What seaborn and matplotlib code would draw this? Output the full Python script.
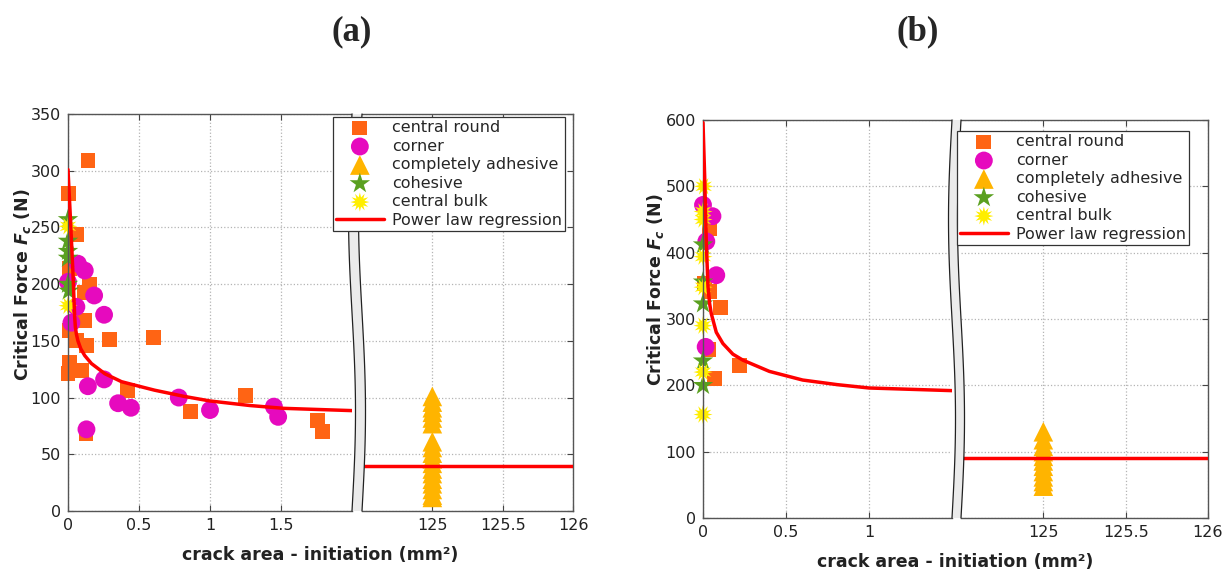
import numpy as np
import pandas as pd
import matplotlib
matplotlib.use('Agg')
import matplotlib.pyplot as plt
import seaborn as sns
from matplotlib.patches import Polygon
from matplotlib.lines import Line2D
from matplotlib.ticker import FormatStrFormatter

sns.set_theme(style='white')
plt.rcParams['font.family'] = ['DejaVu Sans']
plt.rcParams['mathtext.fontset'] = 'custom'
plt.rcParams['mathtext.it'] = 'DejaVu Sans:italic:bold'
plt.rcParams['mathtext.rm'] = 'DejaVu Sans:bold'

# ---------------- data (a) ----------------
A_ROUND_X = [0.141, 0.005, 0.059, 0.012, 0.153, 0.113, 0.118, 0.012, 0.059, 0.13, 0.295, 0.605,
             0.012, 0.094, 0.0, 0.012, 0.42, 1.25, 0.86, 1.76, 1.79, 0.127]
A_ROUND_Y = [309, 280, 244, 214, 200, 193, 168, 159, 150, 146, 151, 153,
             124, 124, 121, 131, 106, 102, 88, 80, 70, 68]
A_CORNER_X = [0.07, 0.118, 0.184, 0.059, 0.254, 0.024, 0.0, 0.254, 0.14, 0.353, 0.443,
              0.78, 1.0, 1.45, 1.48, 0.13]
A_CORNER_Y = [218, 212, 190, 180, 173, 166, 202, 116, 110, 95, 91,
              100, 89, 92, 83, 72]
A_ADH_X = [125] * 18
A_ADH_Y = [101, 96, 91, 87, 82, 77, 61, 56, 51, 46, 42, 37, 33, 28, 24, 19, 14, 12]
A_COH_X = [0.0, 0.0, 0.0, 0.0, 0.0, 0.005]
A_COH_Y = [257, 238, 229, 223, 200, 194]
A_BULK_X = [0.0, 0.0]
A_BULK_Y = [181, 251]
A_FIT_X = [0.0, 0.019, 0.035, 0.047, 0.052, 0.059, 0.07, 0.09, 0.118, 0.165, 0.26, 0.377,
           0.5, 0.61, 0.82, 1.0, 1.28, 1.52, 2.0]
A_FIT_Y = [301, 253, 209, 171, 162, 156, 150, 143, 137, 130, 121, 114,
           110, 106.5, 101, 97, 93, 90.5, 88.5]
A_FIT_RIGHT = 40

# ---------------- data (b) ----------------
B_ROUND_X = [0.04, 0.01, 0.04, 0.107, 0.036, 0.218, 0.07]
B_ROUND_Y = [437, 354, 341, 318, 254, 230, 210]
B_CORNER_X = [0.0, 0.057, 0.02, 0.08, 0.016]
B_CORNER_Y = [472, 455, 417, 366, 258]
B_ADH_X = [125] * 11
B_ADH_Y = [130, 118, 108, 100, 93, 86, 78, 70, 62, 55, 48]
B_COH_X = [0.0, 0.0, 0.0, 0.0, 0.0]
B_COH_Y = [412, 356, 323, 237, 200]
B_BULK_X = [0.004, 0.0, 0.0, 0.0, 0.0, 0.0, 0.0, 0.0]
B_BULK_Y = [500, 462, 450, 394, 348, 290, 220, 156]
B_FIT_X = [0.0, 0.01, 0.02, 0.03, 0.04, 0.05, 0.08, 0.12, 0.18, 0.24, 0.40, 0.60, 0.81, 1.0, 1.5]
B_FIT_Y = [596, 515, 414, 349, 323, 308, 280, 263, 247, 238, 221, 208, 201, 196, 192]
B_FIT_RIGHT = 90

C_ROUND = '#FF6414'
C_CORNER = '#E60ABE'
C_ADH = '#FFB400'
C_COH = '#5AA020'
C_BULK = '#FFEE00'
C_FIT = '#FF0000'

MK = {
    'central round': ('s', C_ROUND, 115),
    'corner': ('o', C_CORNER, 165),
    'completely adhesive': ('^', C_ADH, 200),
    'cohesive': ('*', C_COH, 240),
    'central bulk': ((12, 1, 0), C_BULK, 190),
}
ORDER = ['central round', 'corner', 'completely adhesive', 'cohesive', 'central bulk',
         'Power law regression']

W, H = 1224, 572
fig = plt.figure(figsize=(W / 100, H / 100), dpi=100)


def fx(px):
    return px / W


def fy(py):
    return 1 - py / H


def scatter(ax, xs, ys, name):
    m, c, s = MK[name]
    sns.scatterplot(x=xs, y=ys, ax=ax, marker=m, color=c, s=s, edgecolor='none',
                    linewidth=0, label=name, legend=False, clip_on=False, zorder=2)


def draw_break(ax_l, ax_r):
    bl = ax_l.get_position()
    br = ax_r.get_position()
    t = np.linspace(0, 1, 80)
    wave = (3.5 / W) * np.sin(2 * np.pi * t)
    y = bl.y0 + t * bl.height
    xl = bl.x1 + wave
    xr = br.x0 + wave
    verts = np.column_stack([np.r_[xl, xr[::-1]], np.r_[y, y[::-1]]])
    band = Polygon(verts, closed=True, transform=fig.transFigure, facecolor='#ebebeb',
                   edgecolor='none', zorder=3.5, clip_on=False)
    ax_r.add_artist(band)
    for xx in (xl, xr):
        ln = Line2D(xx, y, transform=fig.transFigure, color='#222222', lw=0.9,
                    zorder=3.6, clip_on=False)
        ax_r.add_artist(ln)


def style_axes(ax_l, ax_r, ymax, ystep, xmax):
    for ax in (ax_l, ax_r):
        ax.set_ylim(0, ymax)
        ax.set_yticks(np.arange(0, ymax + 1, ystep))
        ax.grid(True, ls=':', color='#b4b4b4', lw=0.9)
        ax.tick_params(direction='in', length=4, width=0.8, color='#444444',
                       labelcolor='#222222', labelsize=11.5, top=True, bottom=True, pad=5)
        for sp in ax.spines.values():
            sp.set_color('#555555')
            sp.set_linewidth(1.0)
        ax.set_xlabel('')
        ax.set_ylabel('')
        ax.set_facecolor('white')
        ax.xaxis.set_major_formatter(FormatStrFormatter('%g'))
    ax_l.set_xlim(0, xmax)
    ax_l.set_xticks(np.arange(0, xmax, 0.5))
    ax_r.set_xlim(124.5, 126)
    ax_r.set_xticks([125, 125.5, 126])
    ax_l.spines['right'].set_visible(False)
    ax_r.spines['left'].set_visible(False)
    ax_l.tick_params(left=True, right=False)
    ax_r.tick_params(left=False, right=True, labelleft=False)


def panel(boxes, data, ymax, ystep, xmax, right_level, legend_anchor, title, title_x,
          ylab_xy, xlab_xy):
    ax_l = fig.add_axes(boxes[0])
    ax_r = fig.add_axes(boxes[1])
    (rx, ry), (cx, cy), (ax_, ay), (hx, hy), (bx, by), (fitx, fity) = data
    scatter(ax_l, rx, ry, 'central round')
    scatter(ax_l, cx, cy, 'corner')
    scatter(ax_r, ax_, ay, 'completely adhesive')
    scatter(ax_l, hx, hy, 'cohesive')
    scatter(ax_l, bx, by, 'central bulk')
    sns.lineplot(x=fitx, y=fity, ax=ax_l, color=C_FIT, lw=2.5, label='Power law regression',
                 legend=False, zorder=3, sort=False, estimator=None)
    ax_r.axhline(right_level, color=C_FIT, lw=2.5, zorder=3)
    style_axes(ax_l, ax_r, ymax, ystep, xmax)
    draw_break(ax_l, ax_r)

    hl, ll = ax_l.get_legend_handles_labels()
    hr, lr = ax_r.get_legend_handles_labels()
    lookup = dict(zip(ll + lr, hl + hr))
    leg = ax_r.legend([lookup[k] for k in ORDER], ORDER, loc='upper right',
                      bbox_to_anchor=legend_anchor, bbox_transform=fig.transFigure,
                      fontsize=11.5, frameon=True, fancybox=False, framealpha=1,
                      edgecolor='#333333', borderpad=0.2, labelspacing=0.22,
                      handlelength=3.0, handletextpad=0.5, borderaxespad=0)
    leg.get_frame().set_linewidth(0.9)
    leg.set_zorder(6)

    fig.text(title_x, fy(32), title, ha='center', va='center', fontsize=25,
             fontweight='bold', family='Liberation Serif')
    fig.text(ylab_xy[0], ylab_xy[1], r'Critical Force $F_c$ (N)', rotation=90,
             ha='center', va='center', fontsize=12.5, fontweight='bold', color='#222222')
    fig.text(xlab_xy[0], xlab_xy[1], 'crack area - initiation (mm²)', ha='center',
             va='center', fontsize=12.5, fontweight='bold', color='#222222')


panel(
    [[fx(68), fy(511), fx(352 - 68), (511 - 114) / H],
     [fx(362), fy(511), fx(573 - 362), (511 - 114) / H]],
    [(A_ROUND_X, A_ROUND_Y), (A_CORNER_X, A_CORNER_Y), (A_ADH_X, A_ADH_Y),
     (A_COH_X, A_COH_Y), (A_BULK_X, A_BULK_Y), (A_FIT_X, A_FIT_Y)],
    350, 50, 2.0, A_FIT_RIGHT, (fx(565), fy(117)), '(a)', fx(352),
    (fx(23), fy(285)), (fx(320), fy(555)))

panel(
    [[fx(703), fy(518), fx(952 - 703), (518 - 120) / H],
     [fx(961), fy(518), fx(1208 - 961), (518 - 120) / H]],
    [(B_ROUND_X, B_ROUND_Y), (B_CORNER_X, B_CORNER_Y), (B_ADH_X, B_ADH_Y),
     (B_COH_X, B_COH_Y), (B_BULK_X, B_BULK_Y), (B_FIT_X, B_FIT_Y)],
    600, 100, 1.5, B_FIT_RIGHT, (fx(1189), fy(131)), '(b)', fx(918),
    (fx(655), fy(290)), (fx(955), fy(562)))

fig.savefig('out.png', dpi=100)
